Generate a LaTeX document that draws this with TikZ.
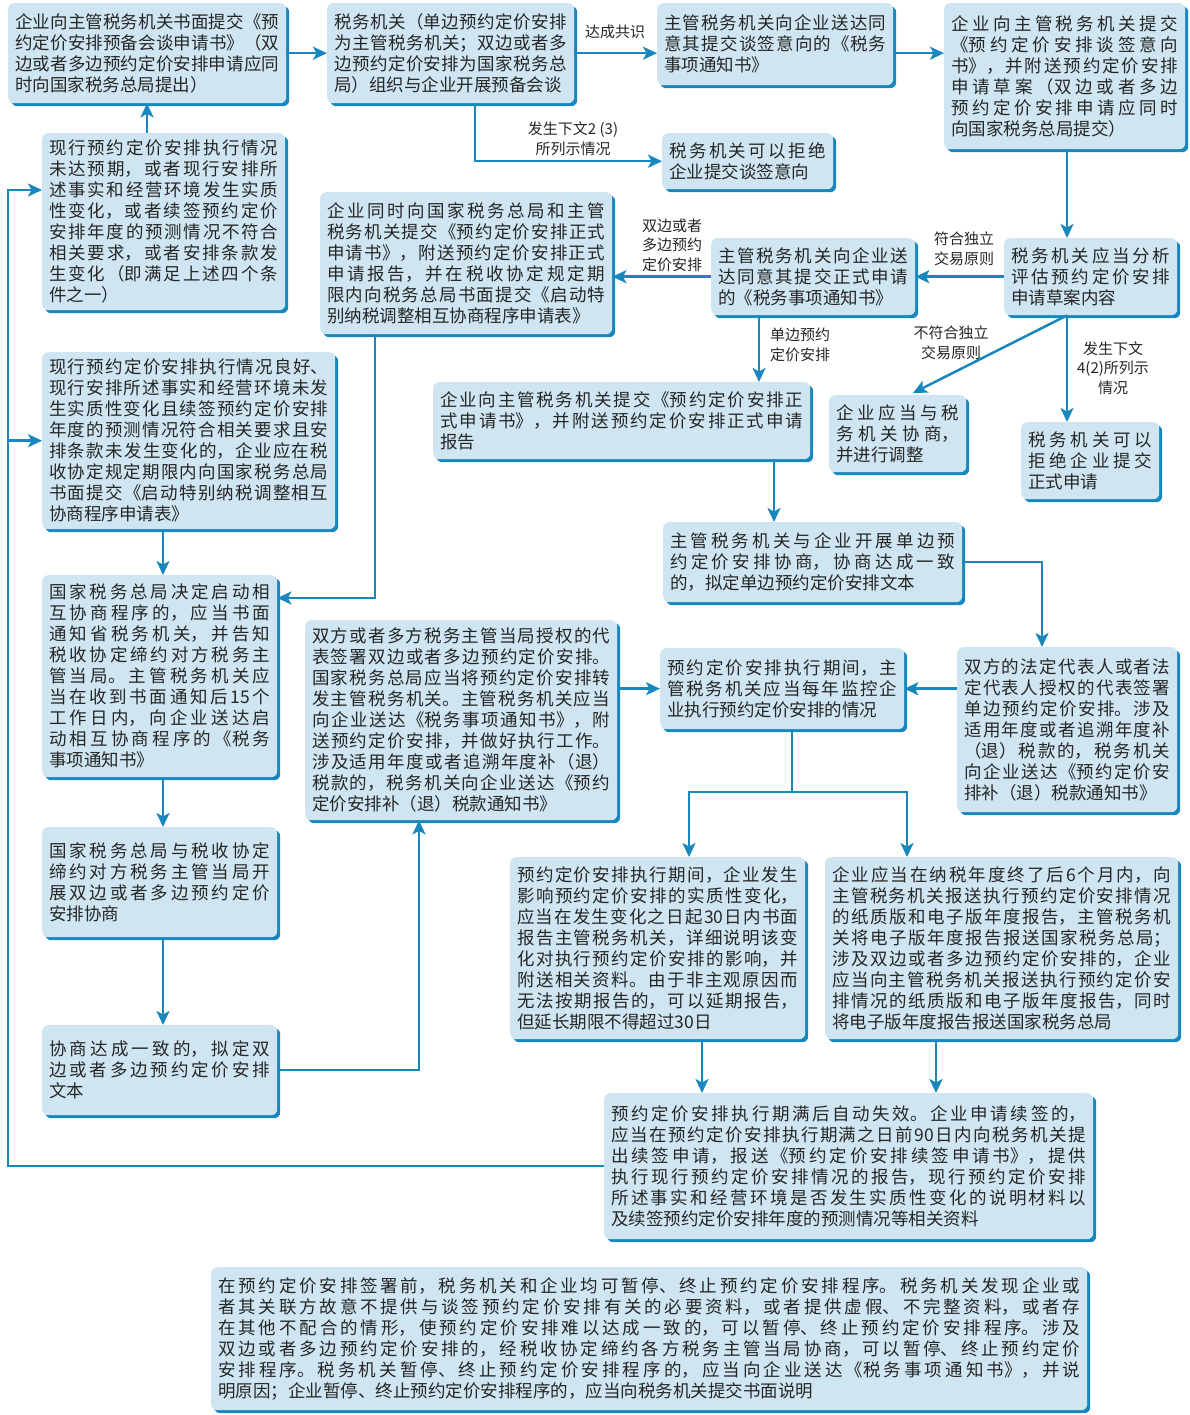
\documentclass[tikz,border=0pt]{standalone}
\usepackage{fontspec}
\setmainfont{Noto Sans CJK SC}
\usetikzlibrary{arrows.meta,shadows}
\definecolor{boxfill}{HTML}{CFE6F2}
\definecolor{edgeblue}{HTML}{1787BE}
\definecolor{txt}{HTML}{262626}
\XeTeXlinebreaklocale "zh"
\XeTeXlinebreakskip=0pt plus 4pt
\newcommand\boxfnt{\fontsize{17.5}{21}\selectfont\tolerance=10000\relax}
\newcommand\lblfnt{\fontsize{15}{19.5}\selectfont}
\tikzset{
 box/.style={anchor=north west, fill=boxfill, rounded corners=6pt, inner xsep=7pt, inner ysep=4pt,
   align=justify, font=\boxfnt, text=txt,
   drop shadow={shadow xshift=3pt, shadow yshift=-3pt, fill=edgeblue, opacity=1}},
 lbl/.style={align=center, font=\lblfnt, text=txt, inner sep=0pt},
 arr/.style={draw=edgeblue, line width=2.5pt, -{Stealth[length=14pt,width=13pt,inset=3.5pt]}},
 ln/.style={draw=edgeblue, line width=2.5pt}
}
\newcommand\mybox[6]{%
 \pgfmathsetmacro\myw{#4-#2-3}\pgfmathsetmacro\myh{#5-#3-3}\pgfmathsetmacro\mytw{#4-#2-17}%
 \node[box, minimum width=\myw pt, minimum height=\myh pt, text width=\mytw pt] (#1) at (#2,#3) {#6};}
\begin{document}
\begin{tikzpicture}[x=1pt,y=-1pt]
\useasboundingbox (0,0) rectangle (1189,1415);

\mybox{A}{8}{3}{289}{106}{企业向主管税务机关书面提交《预\linebreak
约定价安排预备会谈申请书》（双\linebreak
边或者多边预约定价安排申请应同\linebreak
时向国家税务总局提出）}

\mybox{B}{327}{3}{577}{106}{税务机关（单边预约定价安排\linebreak
为主管税务机关；双边或者多\linebreak
边预约定价安排为国家税务总\linebreak
局）组织与企业开展预备会谈}

\mybox{C}{657}{3}{896}{88}{主管税务机关向企业送达同\linebreak
意其提交谈签意向的《税务\linebreak
事项通知书》}

\mybox{D}{944}{3}{1188}{152}{企业向主管税务机关提交\linebreak
《预约定价安排谈签意向\linebreak
书》，并附送预约定价安排\linebreak
申请草案（双边或者多边\linebreak
预约定价安排申请应同时\linebreak
向国家税务总局提交）}

\mybox{E}{662}{133}{836}{192}{税务机关可以拒绝\linebreak
企业提交谈签意向}

\mybox{F}{42}{133}{288}{313}{现行预约定价安排执行情况\linebreak
未达预期，或者现行安排所\linebreak
述事实和经营环境发生实质\linebreak
性变化，或者续签预约定价\linebreak
安排年度的预测情况不符合\linebreak
相关要求，或者安排条款发\linebreak
生变化（即满足上述四个条\linebreak
件之一）}

\mybox{G}{320}{192}{615}{337}{企业同时向国家税务总局和主管\linebreak
税务机关提交《预约定价安排正式\linebreak
申请书》，附送预约定价安排正式\linebreak
申请报告，并在税收协定规定期\linebreak
限内向税务总局书面提交《启动特\linebreak
别纳税调整相互协商程序申请表》}

\mybox{H}{711}{238}{918}{318}{主管税务机关向企业送\linebreak
达同意其提交正式申请\linebreak
的《税务事项通知书》}

\mybox{I}{1004}{238}{1180}{318}{税务机关应当分析\linebreak
评估预约定价安排\linebreak
申请草案内容}

\mybox{J}{433}{382}{813}{462}{企业向主管税务机关提交《预约定价安排正\linebreak
式申请书》，并附送预约定价安排正式申请\linebreak
报告}

\mybox{K}{829}{395}{969}{475}{企业应当与税\linebreak
务机关协商，\linebreak
并进行调整}

\mybox{L}{1021}{422}{1162}{502}{税务机关可以\linebreak
拒绝企业提交\linebreak
正式申请}

\mybox{M}{42}{352}{338}{532}{现行预约定价安排执行情况良好、\linebreak
现行安排所述事实和经营环境未发\linebreak
生实质性变化且续签预约定价安排\linebreak
年度的预测情况符合相关要求且安\linebreak
排条款未发生变化的，企业应在税\linebreak
收协定规定期限内向国家税务总局\linebreak
书面提交《启动特别纳税调整相互\linebreak
协商程序申请表》}

\mybox{N}{42}{575}{280}{780}{国家税务总局决定启动相\linebreak
互协商程序的，应当书面\linebreak
通知省税务机关，并告知\linebreak
税收协定缔约对方税务主\linebreak
管当局。主管税务机关应\linebreak
当在收到书面通知后15个\linebreak
工作日内，向企业送达启\linebreak
动相互协商程序的《税务\linebreak
事项通知书》}

\mybox{O}{663}{522}{965}{605}{主管税务机关与企业开展单边预\linebreak
约定价安排协商，协商达成一致\linebreak
的，拟定单边预约定价安排文本}

\mybox{P}{957}{647}{1180}{815}{双方的法定代表人或者法\linebreak
定代表人授权的代表签署\linebreak
单边预约定价安排。涉及\linebreak
适用年度或者追溯年度补\linebreak
（退）税款的，税务机关\linebreak
向企业送达《预约定价安\linebreak
排补（退）税款通知书》}

\mybox{Q}{660}{648}{907}{732}{预约定价安排执行期间，主\linebreak
管税务机关应当每年监控企\linebreak
业执行预约定价安排的情况}

\mybox{R}{305}{620}{620}{823}{双方或者多方税务主管当局授权的代\linebreak
表签署双边或者多边预约定价安排。\linebreak
国家税务总局应当将预约定价安排转\linebreak
发主管税务机关。主管税务机关应当\linebreak
向企业送达《税务事项通知书》，附\linebreak
送预约定价安排，并做好执行工作。\linebreak
涉及适用年度或者追溯年度补（退）\linebreak
税款的，税务机关向企业送达《预约\linebreak
定价安排补（退）税款通知书》}

\mybox{S}{42}{827}{280}{940}{国家税务总局与税收协定\linebreak
缔约对方税务主管当局开\linebreak
展双边或者多边预约定价\linebreak
安排协商}

\mybox{T}{42}{1025}{280}{1118}{协商达成一致的，拟定双\linebreak
边或者多边预约定价安排\linebreak
文本}

\mybox{U}{510}{857}{808}{1042}{预约定价安排执行期间，企业发生\linebreak
影响预约定价安排的实质性变化，\linebreak
应当在发生变化之日起30日内书面\linebreak
报告主管税务机关，详细说明该变\linebreak
化对执行预约定价安排的影响，并\linebreak
附送相关资料。由于非主观原因而\linebreak
无法按期报告的，可以延期报告，\linebreak
但延长期限不得超过30日}

\mybox{V}{825}{857}{1181}{1042}{企业应当在纳税年度终了后6个月内，向\linebreak
主管税务机关报送执行预约定价安排情况\linebreak
的纸质版和电子版年度报告，主管税务机\linebreak
关将电子版年度报告报送国家税务总局；\linebreak
涉及双边或者多边预约定价安排的，企业\linebreak
应当向主管税务机关报送执行预约定价安\linebreak
排情况的纸质版和电子版年度报告，同时\linebreak
将电子版年度报告报送国家税务总局}

\mybox{W}{604}{1093}{1096}{1242}{预约定价安排执行期满后自动失效。企业申请续签的，\linebreak
应当在预约定价安排执行期满之日前90日内向税务机关提\linebreak
出续签申请，报送《预约定价安排续签申请书》，提供\linebreak
执行现行预约定价安排情况的报告，现行预约定价安排\linebreak
所述事实和经营环境是否发生实质性变化的说明材料以\linebreak
及续签预约定价安排年度的预测情况等相关资料}

\mybox{X}{211}{1267}{1090}{1413}{在预约定价安排签署前，税务机关和企业均可暂停、终止预约定价安排程序。税务机关发现企业或\linebreak
者其关联方故意不提供与谈签预约定价安排有关的必要资料，或者提供虚假、不完整资料，或者存\linebreak
在其他不配合的情形，使预约定价安排难以达成一致的，可以暂停、终止预约定价安排程序。涉及\linebreak
双边或者多边预约定价安排的，经税收协定缔约各方税务主管当局协商，可以暂停、终止预约定价\linebreak
安排程序。税务机关暂停、终止预约定价安排程序的，应当向企业送达《税务事项通知书》，并说\linebreak
明原因；企业暂停、终止预约定价安排程序的，应当向税务机关提交书面说明}

% labels
\node[lbl] (l1) at (615,32) {达成共识};
\node[lbl] (l2) at (573,139) {发生下文2 (3)\\所列示情况};
\node[lbl] (l3) at (964,249) {符合独立\\交易原则};
\node[lbl] (l4) at (672,245) {双边或者\\多边预约\\定价安排};
\node[lbl] (l5) at (800,345) {单边预约\\定价安排};
\node[lbl] (l6) at (951,343) {不符合独立\\交易原则};
\node[lbl] (l7) at (1113,368) {发生下文\\4(2)所列示\\情况};

% helper coordinates
\coordinate (xBE) at (475,0);
\coordinate (xFA) at (147,0);
\coordinate (xDI) at (1067,0);
\coordinate (xHJ) at (759,0);
\coordinate (pK) at (913,393);
\coordinate (xJO) at (774,0);
\coordinate (pGN) at (375,598);
\coordinate (xMN) at (163,0);
\coordinate (xTR) at (419,0);
\coordinate (xOP) at (1042,0);
\coordinate (pQ) at (792,792);
\coordinate (xU) at (689,0);
\coordinate (xV) at (907,0);
\coordinate (xUW) at (702,0);
\coordinate (xVW) at (936,0);
\coordinate (pL) at (8,190);

% connectors
\draw[arr] (A.east) -- (B.west);
\draw[arr] (B.east) -- (B.east -| C.west);
\draw[arr] (C.east |- B.east) -- (D.west |- B.east);
\draw[arr] (B.south -| xBE) |- (E.west);
\draw[arr] (F.north -| xFA) -- (A.south -| xFA);
\draw[arr] (D.south -| xDI) -- (I.north -| xDI);
\draw[arr] (I.west) -- (H.east);
\draw[arr] (H.west) -- (H.west -| G.east);
\draw[arr] (H.south -| xHJ) -- (J.north -| xHJ);
\draw[arr] (I.south -| xDI) -- (pK);
\draw[arr] (I.south -| xDI) -- (L.north -| xDI);
\draw[arr] (J.south -| xJO) -- (O.north -| xJO);
\draw[arr] (G.south -| pGN) -- (pGN) -- (pGN -| N.east);
\draw[arr] (M.south -| xMN) -- (N.north -| xMN);
\draw[arr] (N.south -| xMN) -- (S.north -| xMN);
\draw[arr] (S.south -| xMN) -- (T.north -| xMN);
\draw[arr] (T.east) -| (R.south -| xTR);
\draw[arr] (O.east) -| (P.north -| xOP);
\draw[arr] (P.west |- Q.east) -- (Q.east);
\draw[arr] (R.east |- Q.west) -- (Q.west);
\draw[ln] (Q.south -| pQ) -- (pQ);
\draw[arr] (pQ) -| (U.north -| xU);
\draw[arr] (pQ) -| (V.north -| xV);
\draw[arr] (U.south -| xUW) -- (W.north -| xUW);
\draw[arr] (V.south -| xVW) -- (W.north -| xVW);
\draw[arr] (W.west) -| (pL) -- (pL -| F.west);
\draw[arr] (pL |- M.west) -- (M.west);
\end{tikzpicture}
\end{document}
